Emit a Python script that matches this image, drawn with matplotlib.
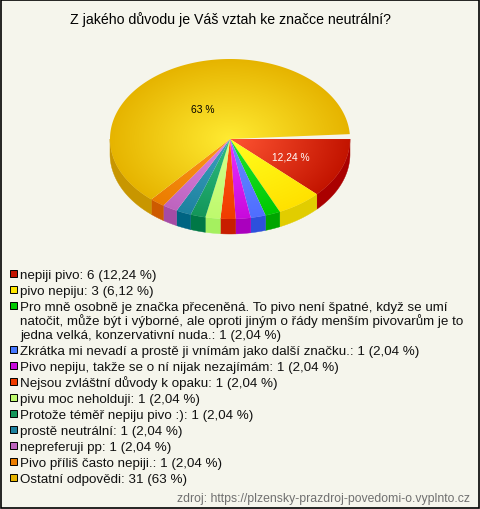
import numpy as np
import matplotlib
matplotlib.use("Agg")
import matplotlib.pyplot as plt
from matplotlib.patches import Polygon, Rectangle

title = "Z jakého důvodu je Váš vztah ke značce neutrální?"
source = "zdroj: https://plzensky-prazdroj-povedomi-o.vyplnto.cz"
counts = [6, 3, 1, 1, 1, 1, 1, 1, 1, 1, 1, 31]
legend_texts = [
    "nepiji pivo: 6 (12,24 %)",
    "pivo nepiju: 3 (6,12 %)",
    "Pro mně osobně je značka přeceněná. To pivo není špatné, když se umí\nnatočit, může být i výborné, ale oproti jiným o řády menším pivovarům je to\njedna velká, konzervativní nuda.: 1 (2,04 %)",
    "Zkrátka mi nevadí a prostě ji vnímám jako další značku.: 1 (2,04 %)",
    "Pivo nepiju, takže se o ní nijak nezajímám: 1 (2,04 %)",
    "Nejsou zvláštní důvody k opaku: 1 (2,04 %)",
    "pivu moc neholduji: 1 (2,04 %)",
    "Protože téměř nepiju pivo :): 1 (2,04 %)",
    "prostě neutrální: 1 (2,04 %)",
    "nepreferuji pp: 1 (2,04 %)",
    "Pivo příliš často nepiji.: 1 (2,04 %)",
    "Ostatní odpovědi: 31 (63 %)",
]
inner = ["#FF5533", "#FFFF1E", "#1EE632", "#648CFF", "#EB32FF", "#FF5A14",
         "#D7FF8C", "#2DBE82", "#3CA0BE", "#DC82E6", "#FF961E", "#FFEB32"]
outer = ["#C31400", "#FFE100", "#00C800", "#506EFF", "#C80ADC", "#F03C00",
         "#BEFA6E", "#14965A", "#1E82A0", "#BE64BE", "#EB7D00", "#E6B400"]
side = ["#AA0000", "#E1CD00", "#00A500", "#2D50DC", "#AA00BE", "#C81E00",
        "#A5F05F", "#007846", "#006482", "#A54BA5", "#CD5A00", "#C89600"]
swatch = ["#C31400", "#FFE600", "#00C800", "#4678FF", "#C80ADC", "#F03C00",
          "#BEFA6E", "#14965A", "#1E82A0", "#BE64BE", "#EB7D00", "#E6B400"]

BG = "#F5F5EC"
CX, CY, RX, RY, DEPTH, GAP = 230, 140, 120, 80, 15, 3.5
FONT = "Liberation Sans"

fig = plt.figure(figsize=(4.8, 5.1), dpi=100, facecolor=BG)
ax = fig.add_axes([0, 0, 1, 1])
ax.set_xlim(0, 480)
ax.set_ylim(510, 0)
ax.axis("off")
ax.add_patch(Rectangle((0.5, 0.5), 478.5, 508.5, fill=False, ec="black", lw=1.2, zorder=10))


def rim(a0, a1, dy=0.0):
    t = np.radians(np.linspace(a0, a1, max(int(a1 - a0) * 2, 2) + 1))
    return np.column_stack([CX + RX * np.cos(t), CY + dy + RY * np.sin(t)])


vals = np.array(counts, float)
angles = np.concatenate([[0], np.cumsum(vals / vals.sum() * (360 - GAP))])

# side walls
for a0, a1, c in zip(angles[:-1], angles[1:], side):
    lo, hi = a0, min(a1, 180)
    if hi > lo:
        top = rim(lo, hi)
        bot = rim(lo, hi, DEPTH)[::-1]
        ax.add_patch(Polygon(np.vstack([top, bot]), closed=True, fc=c, ec=c, lw=0.3, zorder=1))

# top faces with radial gradient
n = 400
xs = np.linspace(CX - RX, CX + RX, n)
ys = np.linspace(CY - RY, CY + RY, n)
X, Y = np.meshgrid(xs, ys)
R = np.clip(np.hypot((X - CX) / RX, (Y - CY) / RY), 0, 1)[..., None]
for a0, a1, c0, c1 in zip(angles[:-1], angles[1:], inner, outer):
    c0 = np.array(matplotlib.colors.to_rgb(c0))
    c1 = np.array(matplotlib.colors.to_rgb(c1))
    img = c0 + (c1 - c0) * R
    im = ax.imshow(img, extent=(CX - RX, CX + RX, CY + RY, CY - RY), zorder=2,
                   interpolation="bilinear", aspect="auto")
    poly = Polygon(np.vstack([[CX, CY], rim(a0, a1)]), closed=True, transform=ax.transData,
                   fc="none", ec="none")
    ax.add_patch(poly)
    im.set_clip_path(poly)
ax.set_xlim(0, 480)
ax.set_ylim(510, 0)

ax.text(203, 113, "63 %", ha="center", va="baseline", fontsize=7.4, family=FONT, color="black", zorder=5)
ax.text(291, 161, "12,24 %", ha="center", va="baseline", fontsize=7.4, family=FONT, color="white", zorder=5)
ax.text(231, 24, title, ha="center", va="baseline", fontsize=10.2, family=FONT, color="black")

# legend
LINE = 14
y = 279
for text, c in zip(legend_texts, swatch):
    ax.add_patch(Rectangle((10, y - 7.7), 6.6, 6.6, fc=c, ec="black", lw=0.7, zorder=4))
    lines = text.split("\n")
    for i, line in enumerate(lines):
        ax.text(20.5, y + i * LINE, line, ha="left", va="baseline", fontsize=9.65, family=FONT, color="#111111")
    y += (len(lines) - 1) * LINE + 16

ax.text(470, 502, source, ha="right", va="baseline", fontsize=8.8, family=FONT, color="#707070")

fig.savefig("out.png", dpi=100, facecolor=BG)
